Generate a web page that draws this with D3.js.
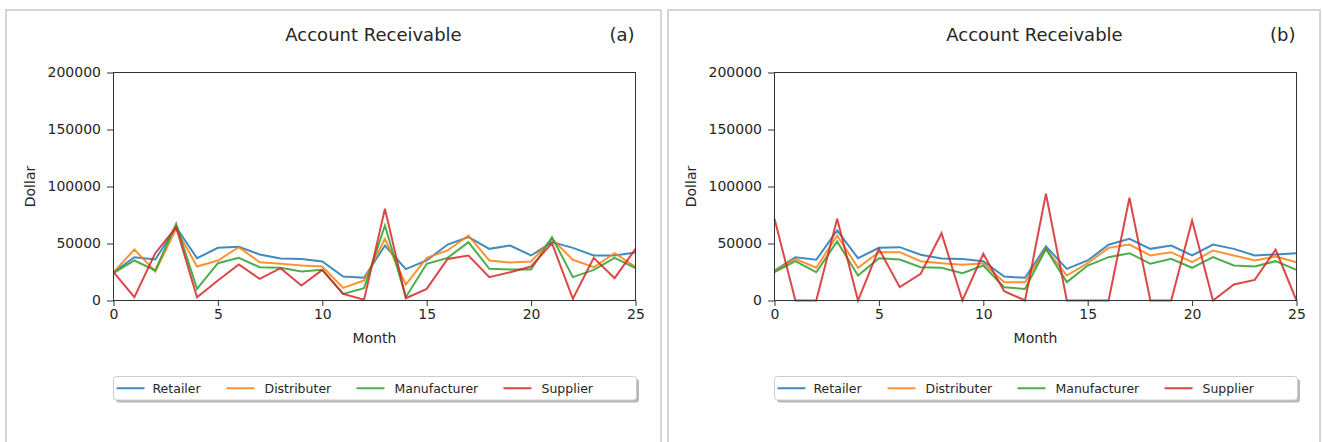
<!DOCTYPE html>
<html>
<head>
<meta charset="utf-8">
<script src="https://cdn.jsdelivr.net/npm/d3@7"></script>
<style>
  html, body { margin: 0; padding: 0; background: #fff; }
  svg { display: block; font-family: "DejaVu Sans", sans-serif; }
</style>
</head>
<body>
<svg id="chart" width="1322" height="442"></svg>
<script>
const months = d3.range(0, 26);
const seriesNames = ["Retailer", "Distributer", "Manufacturer", "Supplier"];
const colors = ["#1f77b4", "#ff7f0e", "#2ca02c", "#d62728"];
const xTicks = [0, 5, 10, 15, 20, 25];
const yTicks = [0, 50000, 100000, 150000, 200000];
const chartTitle = "Account Receivable";
const xLabel = "Month";
const yLabel = "Dollar";

const retailerA = [24800, 38000, 36000, 64300, 37100, 46200, 47100, 40400, 36800, 36300, 34200, 21000, 19900, 48200, 27500, 35100, 49100, 55600, 45300, 48200, 39500, 51200, 46200, 39500, 39500, 42100];
const distributerA = [24800, 44700, 25400, 62900, 29800, 35100, 46800, 33600, 32200, 30700, 29800, 11100, 17500, 54100, 14000, 37400, 43900, 57000, 35100, 33300, 34200, 54100, 35700, 29200, 41500, 29500];
const manufacturerA = [24000, 35100, 26300, 67300, 10200, 32700, 37400, 29200, 28700, 25400, 26900, 5800, 10800, 65800, 2900, 32200, 37400, 51200, 27800, 27200, 27200, 55600, 20500, 26900, 37400, 28400];
const supplierA = [24800, 2900, 41500, 64300, 2900, 17500, 31600, 19000, 28400, 13200, 26900, 5800, 600, 80400, 2000, 10200, 36500, 39500, 20500, 24800, 29800, 50300, 1500, 37400, 19600, 45300];

const retailerB = [26300, 38000, 35700, 61400, 37100, 46200, 46800, 40100, 36800, 36300, 34500, 21000, 19900, 47400, 27800, 35100, 48900, 54100, 45300, 48200, 39500, 49100, 45300, 39500, 40400, 41500];
const distributerB = [25800, 36500, 28700, 57000, 28700, 42400, 42400, 34500, 32700, 31300, 32700, 16100, 16100, 45300, 21900, 32700, 46200, 49100, 39500, 42400, 33600, 43900, 39500, 35100, 38600, 33600];
const manufacturerB = [24800, 34500, 24800, 51800, 21900, 37100, 36000, 29200, 28700, 24000, 30700, 11700, 10200, 45300, 16100, 30700, 38000, 41500, 32200, 36600, 28700, 38000, 30700, 29800, 34500, 26900];
const supplierB = [71700, 0, 0, 71700, 0, 45300, 11700, 23400, 59000, 0, 41000, 8200, 0, 93600, 0, 0, 0, 90100, 0, 0, 70200, 0, 14000, 18100, 44700, 0];

const panels = [
  { tag: "(a)", frameX: 6, frameW: 655, plotX: 113.5, series: [retailerA, distributerA, manufacturerA, supplierA] },
  { tag: "(b)", frameX: 668, frameW: 652, plotX: 774.5, series: [retailerB, distributerB, manufacturerB, supplierB] }
];

const svg = d3.select("#chart");
const plotW = 522, plotTop = 72.5, plotBottom = 300.5;

panels.forEach(p => {
  const g = svg.append("g");
  // frame
  g.append("rect")
    .attr("x", p.frameX).attr("y", 10)
    .attr("width", p.frameW).attr("height", 460)
    .attr("fill", "#fff").attr("stroke", "#c8c8c8").attr("stroke-width", 1.5);

  const x = d3.scaleLinear().domain([0, 25]).range([p.plotX, p.plotX + plotW]);
  const y = d3.scaleLinear().domain([0, 200000]).range([plotBottom, plotTop]);

  // lines
  const line = d3.line().x((d, i) => x(months[i])).y(d => y(d));
  p.series.forEach((s, k) => {
    g.append("path")
      .datum(s)
      .attr("d", line)
      .attr("fill", "none")
      .attr("stroke", colors[k])
      .attr("stroke-opacity", 0.85)
      .attr("stroke-width", 2)
      .attr("stroke-linejoin", "miter");
  });

  // plot frame
  g.append("rect")
    .attr("x", p.plotX).attr("y", plotTop)
    .attr("width", plotW).attr("height", plotBottom - plotTop)
    .attr("fill", "none").attr("stroke", "#333").attr("stroke-width", 1);

  // axes
  const xAxis = g.append("g")
    .attr("transform", `translate(0,${plotBottom})`)
    .call(d3.axisBottom(x).tickValues(xTicks).tickSize(5.5).tickPadding(3).tickFormat(d3.format("d")));
  const yAxis = g.append("g")
    .attr("transform", `translate(${p.plotX},0)`)
    .call(d3.axisLeft(y).tickValues(yTicks).tickSize(6.5).tickPadding(6).tickFormat(d3.format("d")));
  [xAxis, yAxis].forEach(a => {
    a.select(".domain").remove();
    a.selectAll("line").attr("stroke", "#333");
    a.selectAll("text").attr("fill", "#262626").style("font-size", "14px").style("font-family", "DejaVu Sans, sans-serif");
  });

  // title
  g.append("text")
    .attr("x", p.plotX + plotW / 2 - 1).attr("y", 41)
    .attr("text-anchor", "middle")
    .attr("fill", "#262626")
    .style("font-size", "18px")
    .text(chartTitle);
  g.append("text")
    .attr("x", p.plotX + plotW - 1).attr("y", 41)
    .attr("text-anchor", "end")
    .attr("fill", "#262626")
    .style("font-size", "18px")
    .text(p.tag);

  // axis labels
  g.append("text")
    .attr("x", p.plotX + plotW / 2).attr("y", 343)
    .attr("text-anchor", "middle")
    .attr("fill", "#262626")
    .style("font-size", "14px")
    .text(xLabel);
  g.append("text")
    .attr("transform", `translate(${p.plotX - 79},${(plotTop + plotBottom) / 2}) rotate(-90)`)
    .attr("text-anchor", "middle")
    .attr("fill", "#262626")
    .style("font-size", "14px")
    .text(yLabel);

  // legend
  const lg = g.append("g").attr("transform", `translate(${p.plotX},376.5)`);
  const lw = 523, lh = 23.5;
  lg.append("rect")
    .attr("x", 2.5).attr("y", 2.5).attr("width", lw).attr("height", lh)
    .attr("rx", 3).attr("fill", "#9a9a9a").attr("opacity", 0.7);
  lg.append("rect")
    .attr("x", 0).attr("y", 0).attr("width", lw).attr("height", lh)
    .attr("rx", 3).attr("fill", "#fff").attr("stroke", "#cccccc").attr("stroke-width", 1);
  const offs = [3, 113, 243, 390];
  seriesNames.forEach((n, k) => {
    lg.append("line")
      .attr("x1", offs[k]).attr("x2", offs[k] + 28)
      .attr("y1", lh / 2).attr("y2", lh / 2)
      .attr("stroke", colors[k]).attr("stroke-opacity", 0.85).attr("stroke-width", 2);
    lg.append("text")
      .attr("x", offs[k] + (k === 0 ? 36 : 38)).attr("y", lh / 2 + 4.5)
      .attr("fill", "#262626")
      .style("font-size", "12.5px")
      .text(n);
  });
});
</script>
</body>
</html>
